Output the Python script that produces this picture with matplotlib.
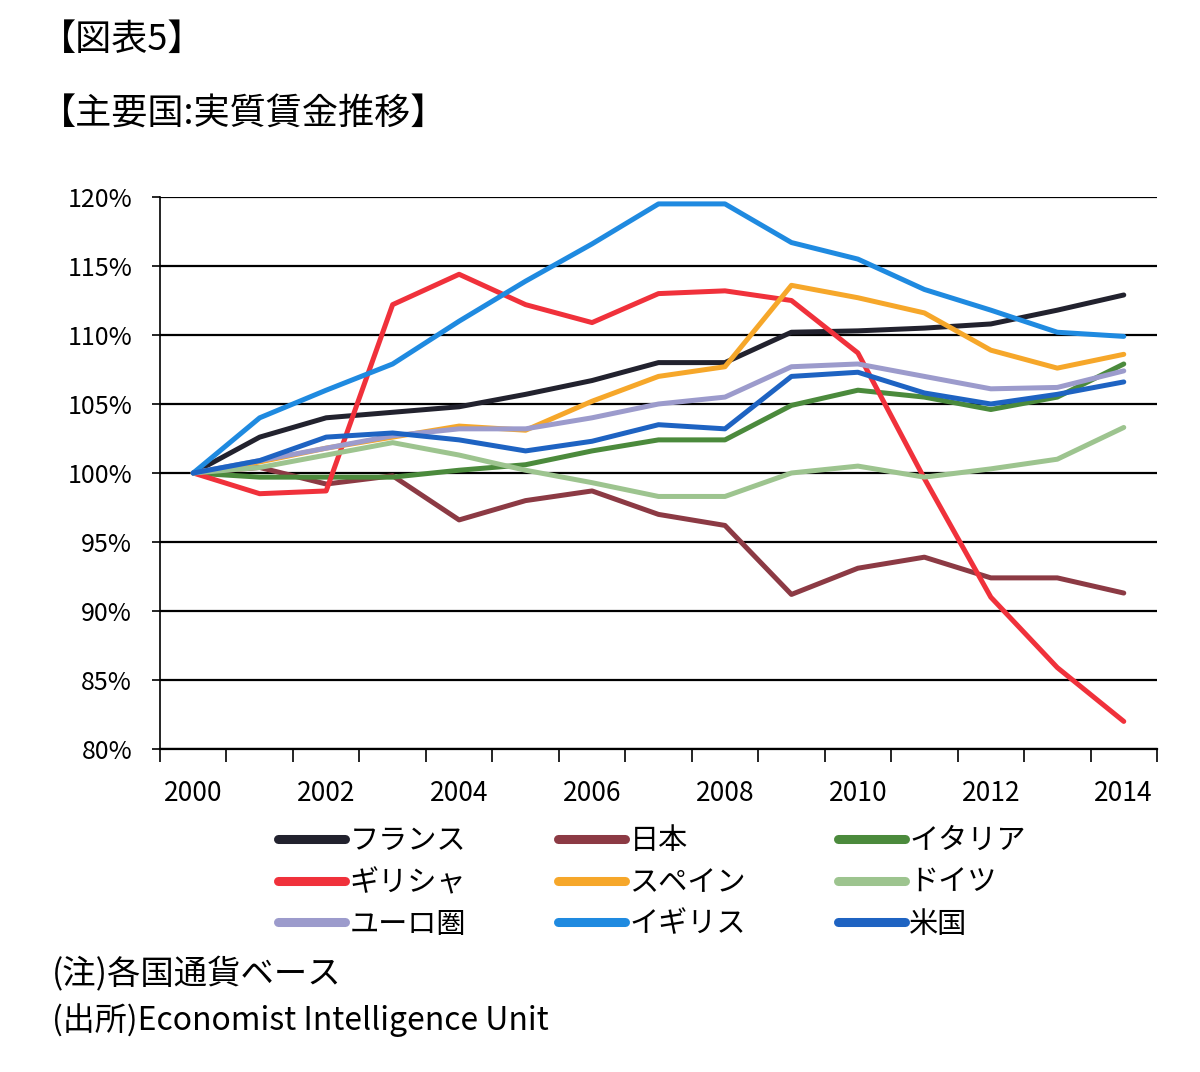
import matplotlib
matplotlib.use('Agg')
import matplotlib.pyplot as plt
from matplotlib.ticker import FixedLocator, FuncFormatter

plt.rcParams['font.family'] = ['Noto Sans CJK JP', 'DejaVu Sans']

# Data (index, 2000 = 100%)
years = list(range(2000, 2015))
france = [100, 102.6, 104.0, 104.4, 104.8, 105.7, 106.7, 108.0, 108.0, 110.2, 110.3, 110.5, 110.8, 111.8, 112.9]
japan = [100, 100.4, 99.2, 99.8, 96.6, 98.0, 98.7, 97.0, 96.2, 91.2, 93.1, 93.9, 92.4, 92.4, 91.3]
italy = [100, 99.7, 99.7, 99.7, 100.2, 100.6, 101.6, 102.4, 102.4, 104.9, 106.0, 105.5, 104.6, 105.5, 107.9]
greece = [100, 98.5, 98.7, 112.2, 114.4, 112.2, 110.9, 113.0, 113.2, 112.5, 108.7, 99.6, 91.0, 85.9, 82.0]
spain = [100, 100.8, 101.8, 102.6, 103.4, 103.1, 105.2, 107.0, 107.7, 113.6, 112.7, 111.6, 108.9, 107.6, 108.6]
germany = [100, 100.4, 101.3, 102.2, 101.3, 100.2, 99.3, 98.3, 98.3, 100.0, 100.5, 99.7, 100.3, 101.0, 103.3]
euro = [100, 100.9, 101.8, 102.7, 103.2, 103.2, 104.0, 105.0, 105.5, 107.7, 107.9, 107.0, 106.1, 106.2, 107.4]
uk = [100, 104.0, 106.0, 107.9, 111.0, 113.9, 116.6, 119.5, 119.5, 116.7, 115.5, 113.3, 111.8, 110.2, 109.9]
us = [100, 100.9, 102.6, 102.9, 102.4, 101.6, 102.3, 103.5, 103.2, 107.0, 107.3, 105.8, 105.0, 105.7, 106.6]

labels = ['フランス', '日本', 'イタリア', 'ギリシャ', 'スペイン', 'ドイツ', 'ユーロ圏', 'イギリス', '米国']
series = [france, japan, italy, greece, spain, germany, euro, uk, us]
colors = ['#22222e', '#8c3a44', '#4b8a3c', '#f0313b', '#f6a72a', '#9dc48f', '#9c9bcc', '#1f8ae0', '#1e63c2']

fig = plt.figure(figsize=(12, 10.72), dpi=100)
ax = fig.add_axes([160 / 1200, 1 - 749 / 1072, 997 / 1200, 552 / 1072])

x = list(range(len(years)))
lines = {}
for lab, vals, col in zip(labels, series, colors):
    ln, = ax.plot(x, vals, color=col, lw=3.6, solid_joinstyle='round',
                  solid_capstyle='round', label=lab)
    lines[lab] = ln

ax.set_xlim(-0.5, 14.5)
ax.set_ylim(80, 120)
ax.set_yticks(range(80, 121, 5))
ax.yaxis.set_major_formatter(FuncFormatter(lambda v, p: f'{int(v)}%'))
ax.grid(axis='y', color='black', lw=1.6)
ax.set_axisbelow(True)

# category axis: ticks between categories, labels every 2 years
ax.xaxis.set_major_locator(FixedLocator(x[::2]))
ax.set_xticklabels([str(y) for y in years[::2]])
ax.xaxis.set_minor_locator(FixedLocator([i - 0.5 for i in range(16)]))
ax.tick_params(axis='x', which='major', length=0, pad=22, labelsize=19)
ax.tick_params(axis='x', which='minor', length=9, width=1.2, direction='out')
ax.tick_params(axis='y', length=6, width=1.2, labelsize=18, pad=14)

for s in ['top', 'right']:
    ax.spines[s].set_visible(False)
ax.spines['left'].set_linewidth(1.2)
ax.spines['bottom'].set_linewidth(1.6)

# legend laid out row by row like the original
order = ['フランス', 'ギリシャ', 'ユーロ圏', '日本', 'スペイン', 'イギリス', 'イタリア', 'ドイツ', '米国']
leg = fig.legend([lines[k] for k in order], order, ncol=3, frameon=False,
                 loc='upper left', bbox_to_anchor=(252 / 1200, 1 - 800 / 1072),
                 fontsize=21, handlelength=2.3, handletextpad=0.15,
                 columnspacing=3.15, labelspacing=0.4)
for h in leg.legend_handles:
    h.set_linewidth(6.5)

fig.text(40 / 1200, 1 - 40 / 1072, '【図表5】', fontsize=26, va='center', ha='left')
fig.text(40 / 1200, 1 - 115 / 1072, '【主要国:実質賃金推移】', fontsize=26, va='center', ha='left')
fig.text(52 / 1200, 1 - 975 / 1072, '(注)各国通貨ベース', fontsize=24, va='center', ha='left')
fig.text(52 / 1200, 1 - 1020 / 1072, '(出所)Economist Intelligence Unit', fontsize=23, va='center', ha='left')

fig.savefig('out.png', dpi=100, facecolor='white')
